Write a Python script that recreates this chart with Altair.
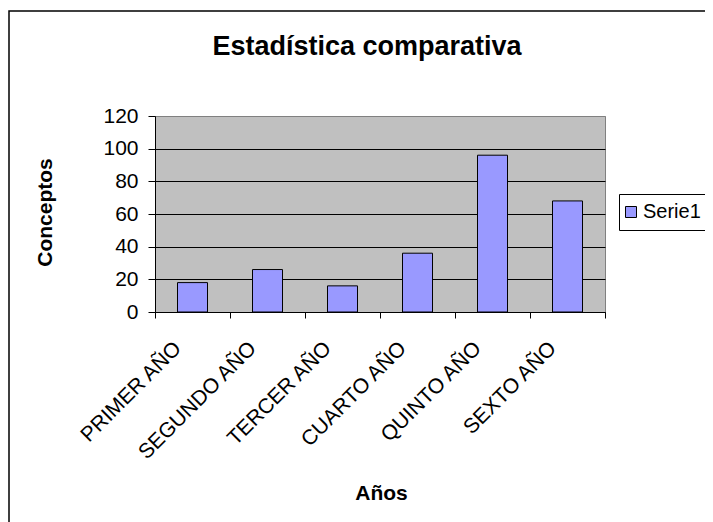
import altair as alt
import pandas as pd

categories = ["PRIMER AÑO", "SEGUNDO AÑO", "TERCER AÑO", "CUARTO AÑO", "QUINTO AÑO", "SEXTO AÑO"]
values = [18, 26, 16, 36, 96, 68]
series_name = "Serie1"
y_ticks = [0, 20, 40, 60, 80, 100, 120]
title_text = "Estadística comparativa"
x_title = "Años"
y_title = "Conceptos"

df = pd.DataFrame({
    "Año": categories,
    "Conceptos": values,
    "Serie": [series_name] * len(categories),
})

FONT = "Liberation Sans"

# outer chart-area frame (decoration)
frame = alt.Chart(alt.Data(values=[{"f": 1}])).mark_rect(
    fill="transparent", stroke="black", strokeWidth=1.5
).encode(
    x=alt.value(-146), x2=alt.value(900),
    y=alt.value(-105), y2=alt.value(900),
)

bars = alt.Chart(df).mark_bar(
    stroke="black", strokeWidth=1, width=alt.RelativeBandSize(0.4)
).encode(
    x=alt.X(
        "Año:N", sort=categories,
        scale=alt.Scale(paddingInner=0, paddingOuter=0),
        axis=alt.Axis(
            title=x_title, titleFont=FONT, titleFontSize=21, titleFontWeight="bold",
            titleColor="black", titleX=226, titleY=187, titleAlign="center",
            titleBaseline="alphabetic", titleAngle=0,
            labelAngle=-45, labelAlign="right", labelBaseline="middle",
            labelFont=FONT, labelFontSize=21, labelColor="black",
            labelPadding=27, labelOffset=-15, labelLimit=300, labelOverlap=False,
            tickBand="extent", tickSize=6, tickColor="black", tickWidth=1,
            domainColor="black", domainWidth=1, grid=False,
        ),
    ),
    y=alt.Y(
        "Conceptos:Q",
        scale=alt.Scale(domain=[0, 120], nice=False),
        axis=alt.Axis(
            values=y_ticks, title=y_title, titleFont=FONT, titleFontSize=21,
            titleFontWeight="bold", titleColor="black",
            titleX=-110, titleY=96, titleAngle=-90, titleAlign="center",
            titleBaseline="middle",
            labelFont=FONT, labelFontSize=21, labelColor="black", labelPadding=10,
            tickSize=7, tickColor="black", tickWidth=1,
            domainColor="black", domainWidth=1,
            grid=True, gridWidth=1,
            gridColor={"condition": {"test": "datum.value === 120", "value": "#808080"},
                       "value": "black"},
        ),
    ),
    color=alt.Color(
        "Serie:N",
        scale=alt.Scale(range=["#9999FF"]),
        legend=alt.Legend(
            title=None, orient="none", legendX=464, legendY=78,
            strokeColor="black", fillColor="white", padding=8,
            symbolType="square", symbolSize=121, symbolStrokeColor="black",
            symbolStrokeWidth=1, symbolFillColor="#9999FF", symbolOffset=-6,
            labelFont=FONT, labelFontSize=20, labelColor="black", labelOffset=2,
        ),
    ),
)

chart = alt.layer(frame, bars).properties(
    width=450,
    height=196,
    autosize="none",
    padding={"left": 147, "top": 108, "right": 100, "bottom": 210},
    title=alt.TitleParams(
        title_text, font=FONT, fontSize=27, fontWeight="bold", color="black",
        anchor="middle", frame="group", baseline="alphabetic", offset=0, dx=-13, dy=72,
    ),
).configure(
    background="white",
).configure_view(
    fill="#C0C0C0", stroke="#808080", strokeWidth=1,
)

chart.save("out.html", embed_options={"renderer": "svg", "actions": False})
